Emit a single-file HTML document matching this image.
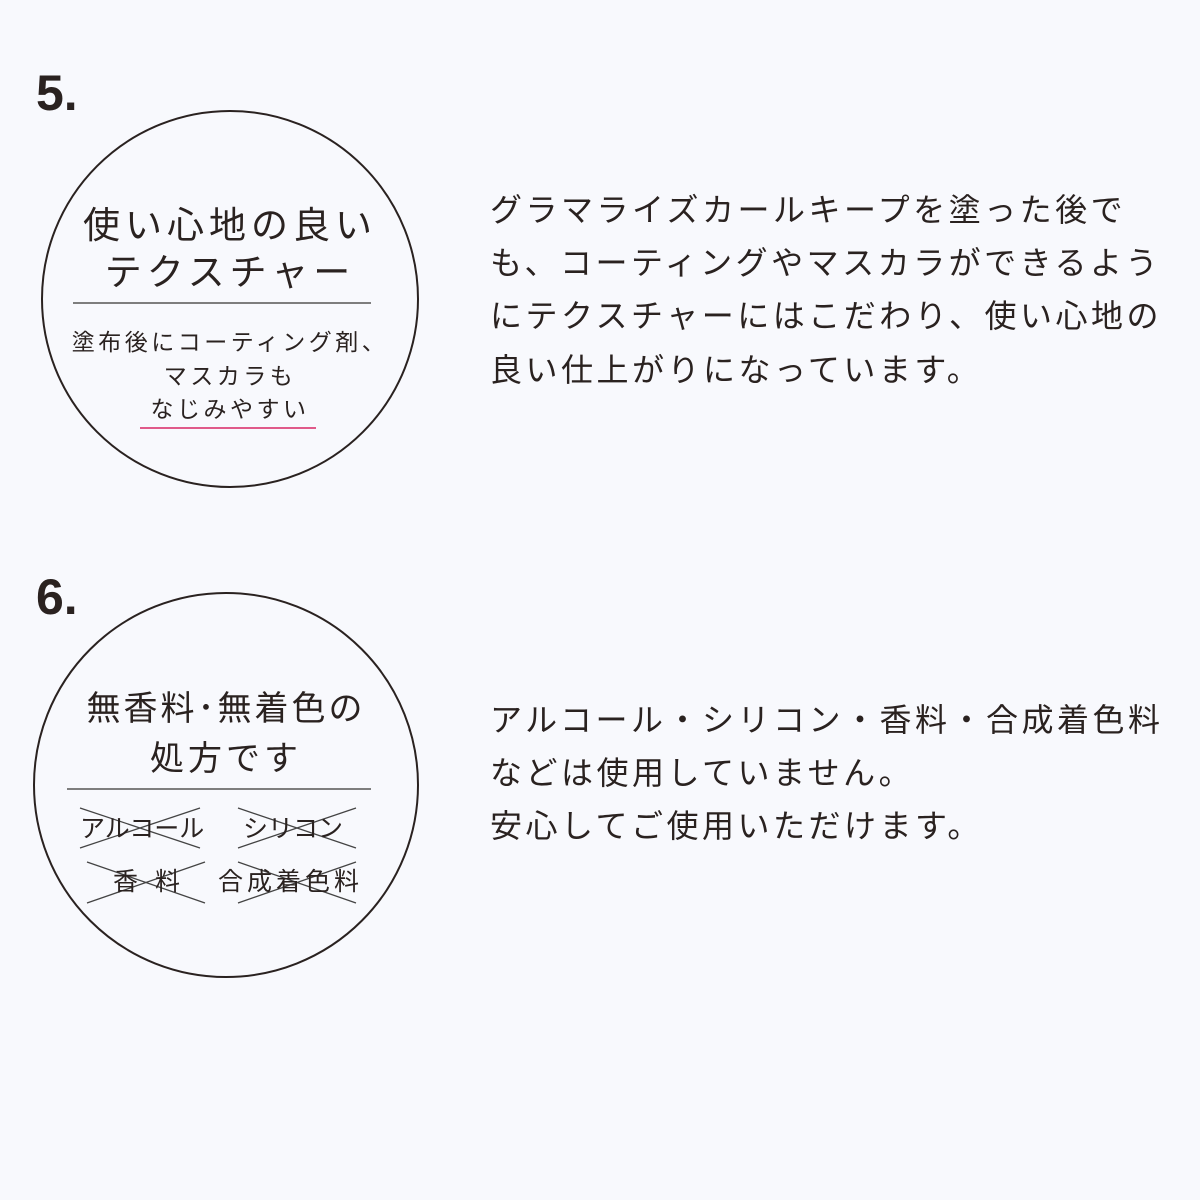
<!DOCTYPE html>
<html><head><meta charset="utf-8"><style>
html,body{margin:0;padding:0}
body{width:1200px;height:1200px;background:#f8f9fd;position:relative;overflow:hidden;color:#2a2220;font-family:"Liberation Sans","Noto Sans CJK JP",sans-serif;font-weight:400}
.t{position:absolute;white-space:nowrap;line-height:1}
.num{font-weight:bold;font-size:50px;left:36px}
.r{left:490px;font-size:32px;letter-spacing:3.5px}
.c{text-align:center}
</style></head><body>
<svg width="1200" height="1200" style="position:absolute;left:0;top:0">
<circle cx="230" cy="299" r="188" fill="none" stroke="#2a2220" stroke-width="2"/>
<circle cx="226" cy="785" r="192" fill="none" stroke="#2a2220" stroke-width="2"/>
<line x1="73" y1="303" x2="371" y2="303" stroke="#555" stroke-width="1.5"/>
<line x1="140" y1="428" x2="316" y2="428" stroke="#e05a8a" stroke-width="2"/>
<line x1="67" y1="789" x2="371" y2="789" stroke="#555" stroke-width="1.5"/>
<g stroke="#444" stroke-width="1.3">
<line x1="80" y1="808" x2="200" y2="848"/><line x1="80" y1="848" x2="200" y2="808"/>
<line x1="238" y1="808" x2="356" y2="848"/><line x1="238" y1="848" x2="356" y2="808"/>
<line x1="87" y1="862" x2="205" y2="903"/><line x1="87" y1="903" x2="205" y2="862"/>
<line x1="238" y1="862" x2="356" y2="903"/><line x1="238" y1="903" x2="356" y2="862"/>
</g>
</svg>
<div class="t num" style="top:68px">5.</div>
<div class="t num" style="top:572px">6.</div>

<div class="t c" style="left:30px;width:400px;top:207px;font-size:37px;letter-spacing:5px">使い心地の良い</div>
<div class="t c" style="left:30px;width:400px;top:254px;font-size:37px;letter-spacing:5px">テクスチャー</div>
<div class="t c" style="left:30px;width:400px;top:331px;font-size:23px;letter-spacing:3.5px">塗布後にコーティング剤、</div>
<div class="t c" style="left:30px;width:400px;top:365px;font-size:23px;letter-spacing:3.5px">マスカラも</div>
<div class="t c" style="left:30px;width:400px;top:398px;font-size:23px;letter-spacing:3.5px">なじみやすい</div>

<div class="t c" style="left:26px;width:400px;top:692px;font-size:34px;letter-spacing:3px">無香料･無着色の</div>
<div class="t c" style="left:26px;width:400px;top:742px;font-size:34px;letter-spacing:4px">処方です</div>
<div class="t" style="left:80px;top:817px;font-size:25px">アルコール</div>
<div class="t" style="left:243px;top:817px;font-size:25px">シリコン</div>
<div class="t" style="left:113px;top:870px;font-size:25px;letter-spacing:17px">香料</div>
<div class="t" style="left:218px;top:870px;font-size:25px;letter-spacing:4px">合成着色料</div>

<div class="t r" style="top:194px">グラマライズカールキープを塗った後で</div>
<div class="t r" style="top:247px">も、コーティングやマスカラができるよう</div>
<div class="t r" style="top:300px">にテクスチャーにはこだわり、使い心地の</div>
<div class="t r" style="top:354px">良い仕上がりになっています。</div>

<div class="t r" style="top:704px">アルコール・シリコン・香料・合成着色料</div>
<div class="t r" style="top:757px">などは使用していません。</div>
<div class="t r" style="top:810px">安心してご使用いただけます。</div>
</body></html>
